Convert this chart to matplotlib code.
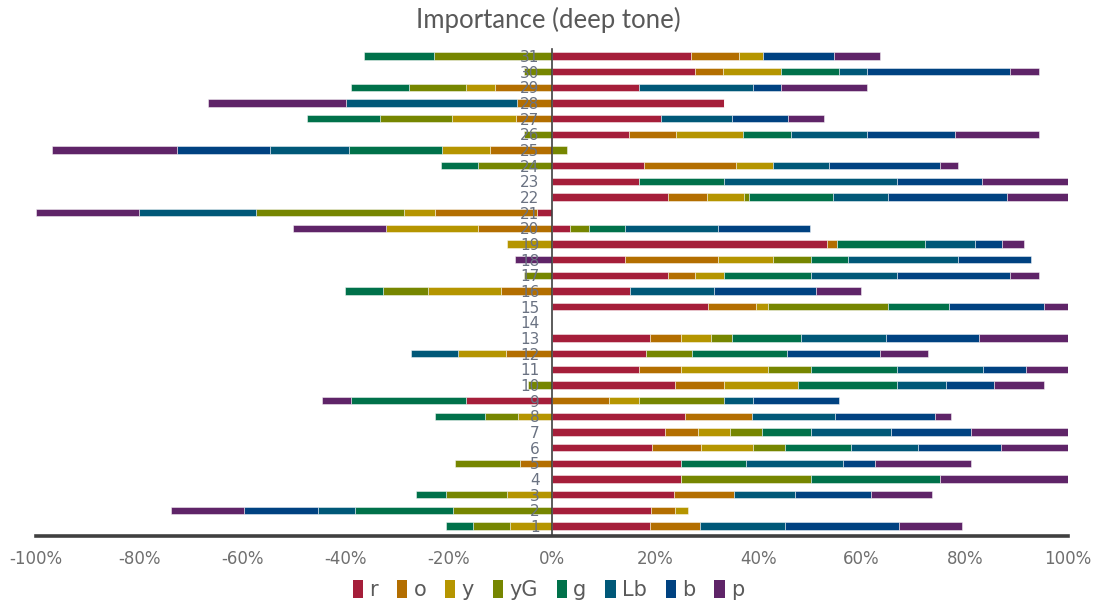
import matplotlib
matplotlib.use("Agg")
import matplotlib.pyplot as plt
from matplotlib.patches import Patch

plt.rcParams["axes.unicode_minus"] = False

rows = list(range(1, 32))
series = ["r", "o", "y", "yG", "g", "Lb", "b", "p"]
colors = ["#A51E3A", "#B36E00", "#B59500", "#768600", "#00714A", "#005878", "#004281", "#5F2468"]

# signed shares per row (row 1 first); negative values stack to the left of zero
r  = [18.9, 19.2, 23.6, 25.0, 25.0, 19.4, 21.8, 25.8, -16.6, 23.8, 16.8, 18.3, 18.9, 0, 30.2, 15.2,
      22.4, 14.2, 53.3, 3.5, -2.9, 22.4, 16.8, 17.8, 0, 14.9, 21.1, 33.4, 16.8, 27.8, 27.0]
o  = [9.7, 4.7, 11.7, 0, -6.3, 9.4, 6.4, 13.0, 11.1, 9.5, 8.2, -9.0, 6.1, 0, 9.3, -9.9,
      5.4, 17.9, 2.0, -14.4, -19.8, 7.7, 0, 17.9, -12.1, 9.1, -6.9, -6.7, -11.1, 5.4, 9.2]
y  = [-8.1, 2.5, -8.8, 0, 0, 10.1, 6.2, -6.5, 5.7, 14.3, 16.8, -9.2, 5.8, 0, 2.4, -14.1,
      5.6, 10.8, -8.8, -17.8, -5.9, 7.2, 0, 7.2, -9.2, 13.0, -12.4, 0, -5.5, 11.2, 4.6]
yG = [-7.3, -19.1, -11.8, 25.1, -12.5, 6.2, 6.2, -6.5, 16.6, -4.7, 8.3, 8.9, 4.0, 0, 23.3, -8.7,
      -5.5, 7.2, 0, 3.6, -28.7, 0.9, 0, -14.4, 3.0, -5.5, -14.1, 0, -11.2, -5.5, -22.8]
g  = [-5.2, -19.0, -5.8, 25.0, 12.5, 12.9, 9.5, -9.6, -22.3, 19.2, 16.7, 18.4, 13.4, 0, 11.7, -7.5,
      16.7, 7.2, 16.9, 7.1, 0, 16.3, 16.6, -7.1, -18.1, 9.4, -14.1, 0, -11.1, 11.2, -13.7]
Lb = [16.6, -7.2, 11.8, 0, 18.8, 13.0, 15.5, 16.1, 5.5, 9.5, 16.7, -9.1, 16.6, 0, 0, 16.2,
      16.7, 21.3, 9.8, 17.9, -22.8, 10.7, 33.4, 10.7, -15.2, 14.7, 13.8, -33.3, 22.1, 5.5, 0]
b  = [22.0, -14.3, 14.8, 0, 6.2, 16.1, 15.6, 19.3, 16.7, 9.4, 8.3, 18.0, 18.0, 0, 18.5, 19.7,
      22.0, 14.3, 5.2, 17.9, 0, 22.9, 16.6, 21.5, -18.1, 16.9, 10.9, 0, 5.5, 27.7, 13.9]
p  = [12.3, -14.2, 11.8, 24.9, 18.7, 12.9, 18.8, 3.2, -5.7, 9.7, 8.2, 9.2, 17.2, 0, 4.6, 8.7,
      5.6, -7.2, 4.2, -17.9, -19.9, 11.9, 16.6, 3.5, -24.2, 16.4, 6.9, -26.6, 16.7, 5.6, 8.9]
values = [r, o, y, yG, g, Lb, b, p]

ticks = list(range(-100, 101, 20))
tick_labels = [f"{t}%" for t in ticks]

fig = plt.figure(figsize=(10.97, 6.05), dpi=100)
ax = fig.add_axes([0.0328, 0.114, 0.9408, 0.805])

pos_left = [0.0] * len(rows)
neg_left = [0.0] * len(rows)
for name, vals, col in zip(series, values, colors):
    lefts = []
    for i, v in enumerate(vals):
        if v >= 0:
            lefts.append(pos_left[i])
            pos_left[i] += v
        else:
            lefts.append(neg_left[i])
            neg_left[i] += v
    ax.barh(rows, vals, left=lefts, height=0.47, color=col,
            edgecolor=(1, 1, 1, 0.55), linewidth=0.6, zorder=1)

ax.set_xlim(-100, 100)
ax.set_ylim(0.36, 31.45)
ax.set_xticks(ticks)
ax.set_xticklabels(tick_labels, fontsize=12, color="#6f6f6f")
ax.tick_params(axis="x", length=0, pad=10)

# category labels sit on the zero line
ax.spines["left"].set_position(("data", 0))
ax.spines["left"].set_color("#404040")
ax.spines["left"].set_linewidth(1.2)
ax.spines["left"].set_zorder(3)
ax.set_yticks(rows)
ax.set_yticklabels([str(v) for v in rows], fontsize=11, color="#6a7282")
ax.tick_params(axis="y", length=0, pad=9)

ax.spines["bottom"].set_color("#404040")
ax.spines["bottom"].set_linewidth(2.6)
ax.spines["top"].set_visible(False)
ax.spines["right"].set_visible(False)

fig.suptitle("Importance (deep tone)", x=0.5, y=0.988, fontsize=18.5,
             color="#595959", family="Lato")

handles = [Patch(facecolor=c, edgecolor="none") for c in colors]
fig.legend(handles, series, loc="center", bbox_to_anchor=(0.5, 0.025), ncol=8,
           frameon=False, handlelength=0.5, handleheight=1.0, handletextpad=0.3,
           columnspacing=0.9, prop={"size": 15}, labelcolor="#5a5a5a")

fig.savefig("out.png", dpi=100)
